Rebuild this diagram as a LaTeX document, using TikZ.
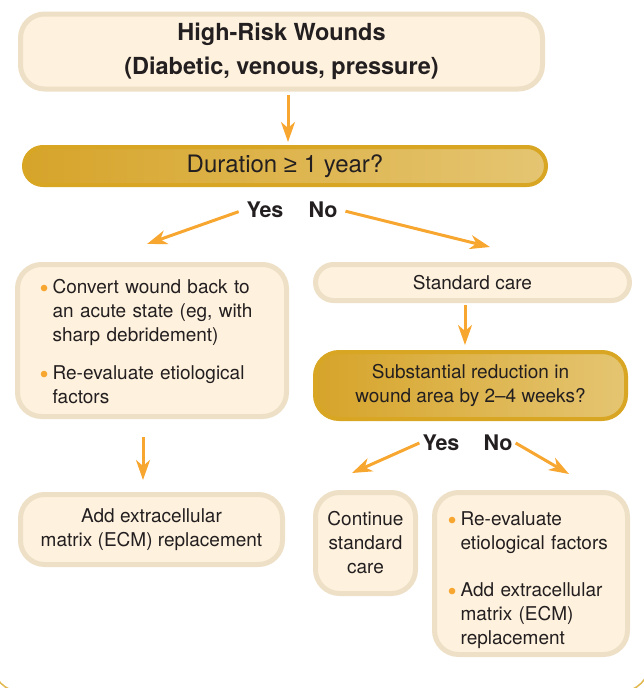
\documentclass[tikz,border=0pt]{standalone}
\usepackage{fontspec}
\setmainfont{TeX Gyre Heros}
\newfontfamily\symfont{Liberation Sans}
\usetikzlibrary{arrows.meta,positioning}

\definecolor{ink}{HTML}{231F20}
\definecolor{cream}{HTML}{FEF1DD}
\definecolor{tan}{HTML}{EEE0C6}
\definecolor{goldline}{HTML}{D8A622}
\definecolor{goldL}{HTML}{D6A42A}
\definecolor{goldR}{HTML}{E5C572}
\definecolor{orangec}{HTML}{F7A630}

\newcommand{\txtsize}{\fontsize{19}{24}\selectfont}
\newcommand{\bul}{\raisebox{-4pt}{\textcolor{orangec}{\fontsize{26}{26}\selectfont\textbullet}}}

\tikzset{
    box/.style={draw=tan, fill=cream, line width=5pt, rounded corners=24pt,
        text=ink, inner sep=0pt, align=center, font=\txtsize},
    ask/.style={draw=goldline, left color=goldL, right color=goldR, line width=4pt,
        rounded corners=19pt, text=ink, inner sep=0pt, align=center, font=\txtsize},
    arr/.style={draw=orangec, line width=3pt, -{Stealth[length=20pt,width=14pt,inset=6pt]}},
    yn/.style={font=\fontsize{21.5}{24}\selectfont\bfseries, text=ink, inner sep=3pt}
}

\begin{document}
\begin{tikzpicture}[x=1pt, y=-1pt]
    \useasboundingbox (0,0) rectangle (644,688);
    % Frame
    \begin{scope}
        \clip (0,0) rectangle (644,688);
        \draw[goldline!80, line width=1.5pt, rounded corners=30pt] (-8,-40) rectangle (650,692);
    \end{scope}
    % Boxes
    \node[box, minimum width=522pt, minimum height=75pt, font=\fontsize{23.5}{34}\selectfont\bfseries]
        (top) at (281.5,51.5) {High-Risk Wounds\\(Diabetic, venous, pressure)};
    \node[ask, minimum width=522pt, minimum height=38pt, font=\fontsize{24}{28}\selectfont]
        (dur) at (285,166) {Duration {\symfont ≥} 1 year?};
    \node[box, minimum width=269pt, minimum height=152pt, text width=225pt, inner xsep=22pt, align=left]
        (conv) at (152,340.5) {\raisebox{-3pt}[\height][\depth]{\begin{tabular}{@{}l@{\hspace{4pt}}l@{}}
            \bul & Convert wound back to\\
                 & an acute state (eg, with\\
                 & sharp debridement)\\[14pt]
            \bul & Re-evaluate etiological\\
                 & factors
        \end{tabular}}};
    \node[box, minimum width=314pt, minimum height=36pt, rounded corners=18pt]
        (std) at (472.5,282.5) {Standard care};
    \node[ask, minimum width=311pt, minimum height=67pt, rounded corners=24pt]
        (reduce) at (470.5,385.5) {Substantial reduction in\\wound area by 2--4 weeks?};
    \node[box, minimum width=262pt, minimum height=70pt]
        (ecm) at (151.5,529.5) {Add extracellular\\matrix (ECM) replacement};
    \node[box, minimum width=100pt, minimum height=101pt]
        (cont) at (365.5,543) {Continue\\standard\\care};
    \node[box, minimum width=193pt, minimum height=162pt, text width=167pt, inner xsep=13pt, align=left]
        (more) at (531,573.5) {\raisebox{-7pt}[\height][\depth]{\begin{tabular}{@{}l@{\hspace{4pt}}l@{}}
            \bul & Re-evaluate\\
                 & etiological factors\\[23pt]
            \bul & Add extracellular\\
                 & matrix (ECM)\\
                 & replacement
        \end{tabular}}};
    % Labels
    \node[yn] (yes1) at (265,210) {Yes};
    \node[yn] (no1) at (323,210) {No};
    \node[yn] (yes2) at (441,443) {Yes};
    \node[yn] (no2) at (498,443) {No};
    \coordinate (yes1end) at (147,244);
    \coordinate (no1end) at (490,247);
    \coordinate (yes2end) at (352,473);
    \coordinate (no2end) at (569,474);
    % Arrows
    \draw[arr, shorten <=3.5pt, shorten >=3pt] ([xshift=6.5pt]top.south) -- ([xshift=3pt]dur.north);
    \draw[arr, shorten <=5pt] (yes1.west) -- (yes1end);
    \draw[arr, shorten <=5pt] (no1.east) -- (no1end);
    \draw[arr, shorten <=2pt, shorten >=5pt] ([xshift=-7.5pt]std.south) -- ([xshift=-5.5pt]reduce.north);
    \draw[arr, shorten <=18pt, shorten >=12pt] ([xshift=-9pt]conv.south) -- ([xshift=-8.5pt]ecm.north);
    \draw[arr] (yes2.west) -- (yes2end);
    \draw[arr] (no2.east) -- (no2end);
\end{tikzpicture}
\end{document}
